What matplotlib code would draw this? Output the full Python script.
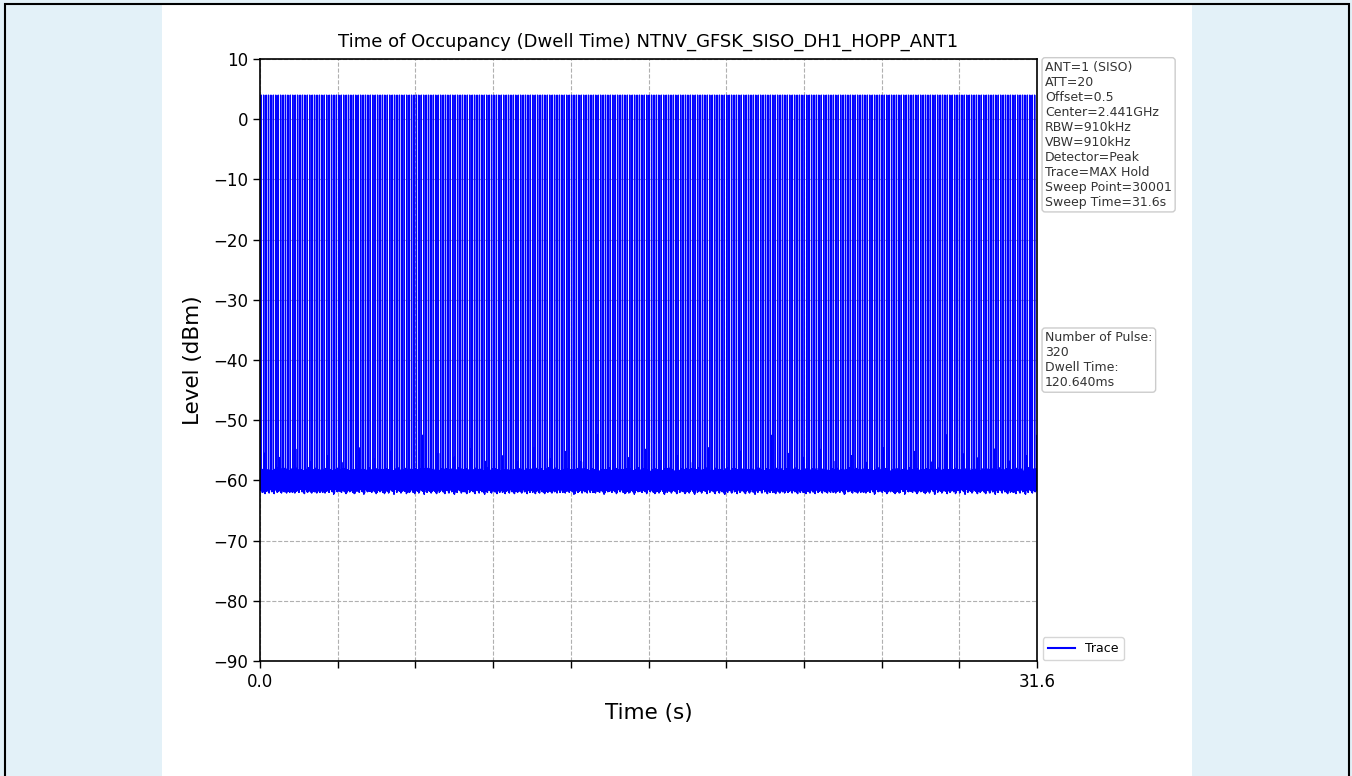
import numpy as np
import matplotlib
matplotlib.use("Agg")
import matplotlib.pyplot as plt
from matplotlib.patches import Rectangle

# ---------------- data ----------------
sweep_time = 31.6            # s
sweep_points = 30001
pulse_count = 320
pulse_level = 4.0            # dBm (peak of each hop)
first_pulse = 0.05           # s
pulse_period = 0.0986        # s between pulses
noise_pattern = [-60.2, -58.9, -61.2, -59.4, -58.5, -60.9, -60.0, -59.1, -61.5, -59.7,
                 -58.4, -61.0, -60.5, -58.7, -61.4, -59.9, -59.0, -60.7, -61.1, -58.8,
                 -59.5, -61.6, -58.5, -60.4, -60.9, -59.1, -59.8, -61.2, -58.6, -60.2,
                 -61.3, -59.3, -58.9, -60.8, -60.1, -59.2, -61.7, -59.6, -58.7, -61.0,
                 -60.5, -59.0, -61.4, -59.7, -58.5, -60.3, -61.1, -59.2, -59.0, -61.3,
                 -60.1, -58.8, -61.2]
block_offsets = [0.0, 0.3, -0.3, 0.2, -0.5, 0.4, -0.1, 0.2, -0.4, 0.1, 0.3, -0.2,
                 0.0, -0.6, 0.3, 0.1, -0.3, 0.5, -0.1, 0.1, -0.4, 0.3, 0.0, -0.2, 0.4,
                 -0.5, 0.2, 0.1, -0.3]
spike_levels = [-55.5, -56.2, -54.8, -56.8, -55.9, -57.0, -54.6, -56.4, -55.2, -56.9, -52.5]
x_tick_labels = ["0.0", "31.6"]
y_ticks = [-90, -80, -70, -60, -50, -40, -30, -20, -10, 0, 10]

info_text = ("ANT=1 (SISO)\nATT=20\nOffset=0.5\nCenter=2.441GHz\nRBW=910kHz\n"
             "VBW=910kHz\nDetector=Peak\nTrace=MAX Hold\nSweep Point=30001\nSweep Time=31.6s")
pulse_text = "Number of Pulse:\n320\nDwell Time:\n120.640ms"
title = "Time of Occupancy (Dwell Time) NTNV_GFSK_SISO_DH1_HOPP_ANT1"

# ---------------- trace ----------------
t = np.linspace(0, sweep_time, sweep_points)
idx = np.arange(sweep_points)
level = (np.array(noise_pattern)[idx % len(noise_pattern)]
         + np.array(block_offsets)[(idx // 40) % len(block_offsets)])
# occasional noise spikes
spike_idx = np.arange(150, sweep_points, 613)
for k, si in enumerate(spike_idx):
    level[si] = spike_levels[k % len(spike_levels)]
level[-3] = spike_levels[-1]
# hop pulses
pulse_times = first_pulse + pulse_period * np.arange(pulse_count)
pulse_idx = np.clip(np.searchsorted(t, pulse_times), 0, sweep_points - 1)
level[pulse_idx] = pulse_level

# ---------------- figure ----------------
W, H = 1352, 776
fig = plt.figure(figsize=(W / 100, H / 100), dpi=100)
fig.patch.set_facecolor("#e3f1f8")
fig.add_artist(Rectangle((162 / W, 0), (1192 - 162) / W, 1 - 5 / H,
                         transform=fig.transFigure, facecolor="white",
                         edgecolor="none", zorder=-10))
fig.add_artist(Rectangle((4.5 / W, -0.05), (1348.5 - 4.5) / W, 1.05 - 4.5 / H,
                         transform=fig.transFigure, fill=False,
                         edgecolor="black", linewidth=1.5, zorder=10))

ax = fig.add_axes([260 / W, (H - 661) / H, 777 / W, 602 / H])
ax.plot(t, level, color="#0000ff", linewidth=1.0, label="Trace")
ax.set_xlim(0, sweep_time)
ax.set_ylim(-90, 10)
ax.set_yticks(y_ticks)
xt = np.linspace(0, sweep_time, 11)
ax.set_xticks(xt)
ax.set_xticklabels([x_tick_labels[0]] + [""] * 9 + [x_tick_labels[1]])
ax.tick_params(labelsize=12, length=5, width=1)
ax.grid(True, linestyle="--", color="#b0b0b0", linewidth=0.8)
for s in ax.spines.values():
    s.set_linewidth(1.2)
ax.set_title(title, fontsize=13, pad=9)
ax.set_xlabel("Time (s)", fontsize=15.5, labelpad=9)
ax.set_ylabel("Level (dBm)", fontsize=15.5, labelpad=7)

box = dict(boxstyle="round,pad=0.25", facecolor="white", edgecolor="#cccccc", linewidth=1)
ax.text(1.0105, 0.997, info_text, transform=ax.transAxes, fontsize=9, va="top",
        ha="left", color="#333333", bbox=box, linespacing=1.2)
ax.text(1.0105, 0.548, pulse_text, transform=ax.transAxes, fontsize=9, va="top",
        ha="left", color="#333333", bbox=box, linespacing=1.2)
leg = ax.legend(loc="lower left", bbox_to_anchor=(1.004, -0.003), fontsize=9,
                borderaxespad=0.2, handlelength=2.2)
leg.get_frame().set_edgecolor("#cccccc")
for ln in leg.get_lines():
    ln.set_linewidth(1.5)

fig.savefig("out.png", dpi=100, facecolor=fig.get_facecolor())
